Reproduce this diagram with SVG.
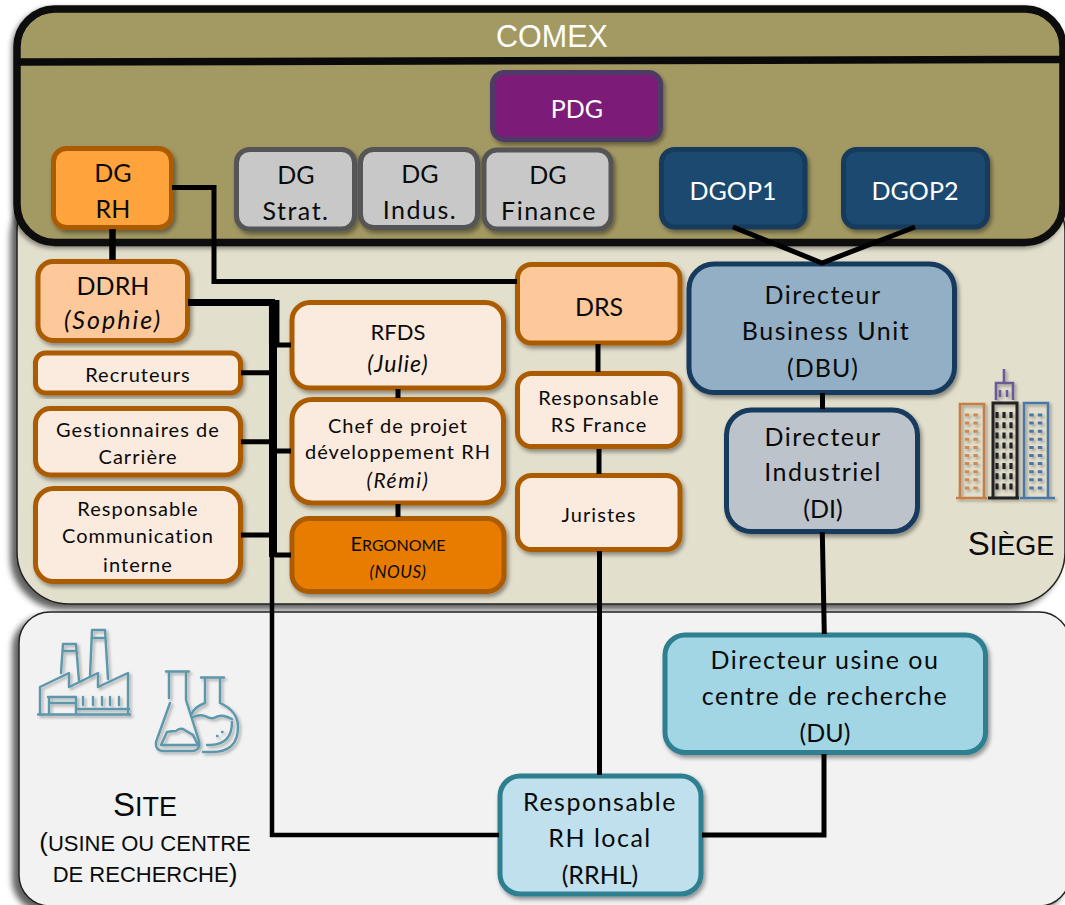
<svg xmlns="http://www.w3.org/2000/svg" width="1065" height="905" viewBox="0 0 1065 905">
<defs>
<filter id="ps" x="-5%" y="-10%" width="110%" height="120%"><feDropShadow dx="-6" dy="5" stdDeviation="3" flood-color="#000" flood-opacity=".62"/></filter>
<filter id="cs" x="-5%" y="-10%" width="110%" height="120%"><feDropShadow dx="-2" dy="2" stdDeviation="2.5" flood-color="#000" flood-opacity=".45"/></filter>
<filter id="ns" x="-10%" y="-10%" width="125%" height="125%"><feDropShadow dx="2" dy="3" stdDeviation="2.2" flood-color="#000" flood-opacity=".4"/></filter>
<filter id="is" x="-10%" y="-10%" width="125%" height="125%"><feDropShadow dx="2" dy="2" stdDeviation="1.5" flood-color="#000" flood-opacity=".3"/></filter>
</defs>
<style>
text{font-family:"Lato","Carlito","Open Sans",sans-serif;text-anchor:middle;fill:#0a0a0a}
.ar{font-family:"Liberation Sans",Arial,sans-serif}
.n{stroke-width:5}
.or{stroke:#ac5c00}
.gr{fill:#c8c8c8;stroke:#555}
.nv{fill:#1a4a70;stroke:#143a5b}
.lt{fill:#fbeade}
.pe{fill:#fdc99b}
.l{font-size:25px}
.k{letter-spacing:1.5px}
.s{font-size:20px;letter-spacing:1.05px}
.i{font-style:italic}
.w{fill:#fff}
.c{fill:none;stroke:#000;stroke-width:5}
.ic{fill:none;stroke:#5b97ab;stroke-width:2.4;stroke-linejoin:round;stroke-linecap:round}
</style>

<g id="siege-panel">
<rect x="17" y="180" width="1048" height="424" rx="52" fill="#e3dfcd" stroke="#222" stroke-width="1.5" filter="url(#ps)"/>
<text class="ar" x="1011" y="555" font-size="33"><tspan>S</tspan><tspan font-size="27">IÈGE</tspan></text>
<g id="icon-towers" filter="url(#is)" fill="none" stroke-width="2.6">
<path d="M960 498V404h24v94M956 498h31" stroke="#c67e43"/>
<path d="M993 498V403h24v95M988 498h31" stroke="#222" stroke-width="3"/>
<path d="M1024 498V403h24v95M1020 498h35" stroke="#4a78a8"/>
<path d="M1004 369v14M996 400v-17h17v17M1000 390v7M1007 390v7" stroke="#6b5a9a"/>
<path d="M967 413.500v78M975.500 413.500v78" stroke="#d08a4c" stroke-width="4.500" stroke-dasharray="3 5.100"/>
<path d="M997 412v78M1004 412v78M1011 412v78" stroke="#222" stroke-width="3.200" stroke-dasharray="6 4.200"/>
<path d="M1031.500 413.500v78M1040 413.500v78" stroke="#4a78a8" stroke-width="4.500" stroke-dasharray="3 5.100"/>
</g>
</g>

<g id="site-panel">
<rect x="19" y="612" width="1051" height="294" rx="31" fill="#f2f2f2" stroke="#222" stroke-width="1.5" filter="url(#ps)"/>
<text class="ar" x="145" y="816" font-size="33"><tspan>S</tspan><tspan font-size="27">ITE</tspan></text>
<text class="ar" x="145" y="851" font-size="26"><tspan>(</tspan><tspan font-size="22">USINE OU CENTRE</tspan></text>
<text class="ar" x="145" y="882" font-size="22"><tspan>DE RECHERCHE</tspan><tspan font-size="26">)</tspan></text>
<g id="icon-factory" class="ic" filter="url(#is)">
<path d="M38 714.500h92M40 714v-27l29-14v14l29-14v14l30-14v41M49 714v-17h27v17M48 697h28M49 703h26M76 709h53"/>
<path d="M61 673l2-29h13l3 37M90 676l2-46h13l3 49M63 651h13M92 638h13"/>
<path d="M83 697v8M93 697v8M102 697v8M110 697v8M119 697v8"/>
</g>
<g id="icon-flasks" class="ic" filter="url(#is)">
<path d="M166 671.500h23M169 672v26M186 672v28l13 41q2 10-8 10h-27q-9 0-8-9l14-39"/>
<path d="M161 745l6-13q5-1 9-1 3-3 7-2 3 2 5 3l5 3 5 10z"/>
<path d="M201 677.500h23M205 678v25q-11 4-14 12M220 678v25q18 8 18 24 0 25-26 25h-9M193 717q7-3 12-1 5 3 9 2 5-3 10-2 4 1 8 3M232 722q0 22-21 23h-4M217 736h.5M222 732h.5"/>
</g>
</g>

<g id="comex-panel">
<rect x="17" y="9" width="1046" height="233.500" rx="38" fill="#a39963" stroke="#0a0a0a" stroke-width="7.500" filter="url(#cs)"/>
<path d="M17 62L1063 59.500" stroke="#0a0a0a" stroke-width="7.500"/>
<text class="ar w" x="552" y="47" font-size="30.500">COMEX</text>
</g>

<g id="pdg"><rect class="n" x="492.500" y="72.500" width="168" height="67" rx="12" fill="#7b1a78" stroke="#4d3b66" filter="url(#ns)"/><text class="l w" x="577" y="118">PDG</text></g>
<g id="dg-rh"><rect class="n or" x="53.500" y="148.500" width="118" height="79" rx="13" fill="#ffa33d" filter="url(#ns)"/><text class="l" x="113" y="182">DG</text><text class="l" x="113" y="218">RH</text></g>
<g id="dg-strat"><rect class="n gr" x="236.500" y="149.500" width="118" height="79.500" rx="13" filter="url(#ns)"/><text class="l" x="296" y="184">DG</text><text class="l k" x="296" y="220">Strat.</text></g>
<g id="dg-indus"><rect class="n gr" x="360.500" y="149.500" width="117" height="78" rx="13" filter="url(#ns)"/><text class="l" x="420" y="183">DG</text><text class="l k" x="420" y="219">Indus.</text></g>
<g id="dg-finance"><rect class="n gr" x="484" y="150" width="127" height="79" rx="13" filter="url(#ns)"/><text class="l" x="548" y="184">DG</text><text class="l k" x="549" y="220">Finance</text></g>
<g id="dgop1"><rect class="n nv" x="661.500" y="149.500" width="143.500" height="77.500" rx="13" filter="url(#ns)"/><text class="l w" x="733" y="200">DGOP1</text></g>
<g id="dgop2"><rect class="n nv" x="843.500" y="149.500" width="144" height="77.500" rx="13" filter="url(#ns)"/><text class="l w" x="915" y="200">DGOP2</text></g>
<g id="ddrh"><rect class="n or pe" x="38" y="261.500" width="149.500" height="79" rx="15" filter="url(#ns)"/><text class="l" x="113" y="295">DDRH</text><text class="l i" x="113" y="329" letter-spacing="2">(Sophie)</text></g>
<g id="recruteurs"><rect class="n or lt" x="35.500" y="353" width="205" height="40" rx="10" filter="url(#ns)"/><text class="s" x="138" y="382">Recruteurs</text></g>
<g id="gestionnaires"><rect class="n or lt" x="35.500" y="408.500" width="205" height="66.500" rx="15" filter="url(#ns)"/><text class="s" x="138" y="437">Gestionnaires de</text><text class="s" x="138" y="464">Carrière</text></g>
<g id="communication"><rect class="n or lt" x="35.500" y="488.500" width="205" height="93" rx="18" filter="url(#ns)"/><text class="s" x="138" y="516">Responsable</text><text class="s" x="138" y="543">Communication</text><text class="s" x="138" y="572">interne</text></g>
<g id="rfds"><rect class="n or lt" x="292" y="302.500" width="211.500" height="85.500" rx="18" filter="url(#ns)"/><text class="s" x="398" y="340" font-size="22" style="font-size:22px;letter-spacing:0">RFDS</text><text class="s i" x="398" y="372" style="font-size:23px">(Julie)</text></g>
<g id="chef-projet"><rect class="n or lt" x="292" y="399.500" width="211.500" height="103.500" rx="20" filter="url(#ns)"/><text class="s" x="398" y="433">Chef de projet</text><text class="s" x="398" y="459">développement RH</text><text class="s i" x="398" y="488" style="font-size:21px;letter-spacing:1.5px">(Rémi)</text></g>
<g id="ergonome"><rect class="n or" x="292" y="518.500" width="212" height="73" rx="17" fill="#e87c03" filter="url(#ns)"/><text x="398" y="551" font-size="20">E<tspan font-size="16">RGONOME</tspan></text><text class="i" x="398" y="578" font-size="17" letter-spacing=".5">(NOUS)</text></g>
<g id="drs"><rect class="n or pe" x="517.500" y="264.500" width="162.500" height="78.500" rx="14" filter="url(#ns)"/><text class="l" x="599" y="316">DRS</text></g>
<g id="rs-france"><rect class="n or lt" x="517.500" y="373.500" width="162.500" height="73" rx="14" filter="url(#ns)"/><text class="s" x="599" y="405">Responsable</text><text class="s" x="599" y="432">RS France</text></g>
<g id="juristes"><rect class="n or lt" x="517.500" y="475.500" width="162.500" height="74" rx="14" filter="url(#ns)"/><text class="s" x="599" y="522">Juristes</text></g>
<g id="dbu"><rect class="n" x="689" y="264" width="265.500" height="128.500" rx="25" fill="#92afc6" stroke="#163a5c" filter="url(#ns)"/><text class="l k" x="823" y="304">Directeur</text><text class="l k" x="826" y="340">Business Unit</text><text class="l" x="823" y="377" letter-spacing="1">(DBU)</text></g>
<g id="di"><rect class="n" x="726.500" y="410" width="191" height="121.500" rx="25" fill="#bdc3ca" stroke="#163a5c" filter="url(#ns)"/><text class="l k" x="823" y="446">Directeur</text><text class="l k" x="823" y="481">Industriel</text><text class="l" x="823" y="518">(DI)</text></g>
<g id="du"><rect class="n" x="665" y="635" width="320.500" height="117.500" rx="20" fill="#a3d6e5" stroke="#2e7f90" filter="url(#ns)"/><text class="l k" x="825" y="669">Directeur usine ou</text><text class="l k" x="825" y="705">centre de recherche</text><text class="l" x="825" y="742">(DU)</text></g>
<g id="rrhl"><rect class="n" x="500" y="776" width="201" height="118" rx="20" fill="#bfe0ec" stroke="#2e7f90" filter="url(#ns)"/><text class="l k" x="600" y="811">Responsable</text><text class="l k" x="600" y="847">RH local</text><text class="l" x="600" y="884">(RRHL)</text></g>

<g id="connectors">
<path class="c" d="M112.500 229V260" style="stroke-width:6.500"/>
<path class="c" d="M172 187.500H214V281.500H517"/>
<path class="c" d="M188 302.500H275" style="stroke-width:7"/>
<path class="c" d="M274.200 300V345" style="stroke-width:10.500"/>
<path class="c" d="M273 345V557" style="stroke-width:8"/>
<path class="c" d="M272 557V835H499" style="stroke-width:4.500"/>
<path class="c" d="M241 372.700H270M241 441.700H270M241 535H270M275 345H291M275 451H291M275 555H291M398 389V398M398 504V517M598 344V372M599 449V474M599.500 551V775M822.500 393V409M822.300 532L824.300 634M824 754V835H702"/>
<path class="c" d="M733 227L822 263L915 227"/>
</g>
</svg>
